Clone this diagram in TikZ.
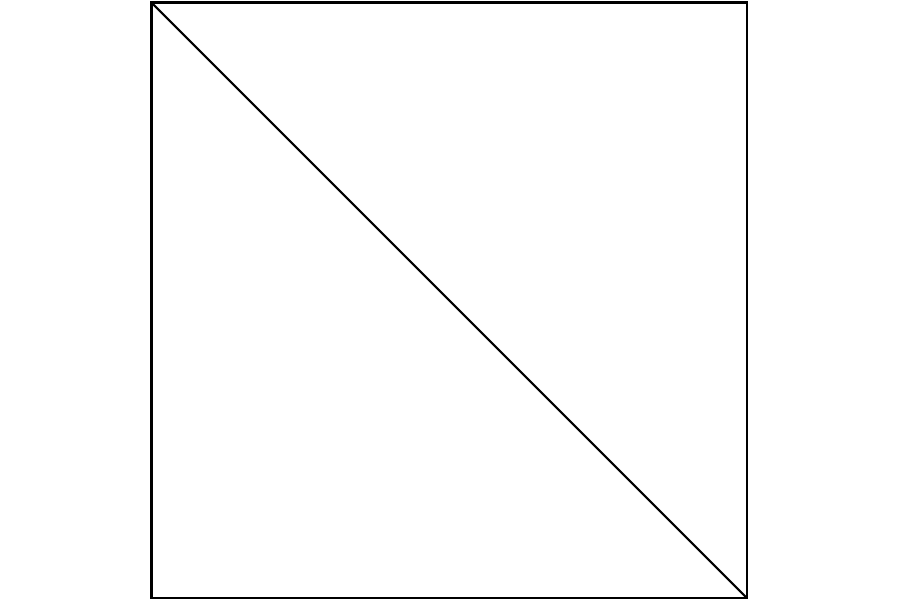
\documentclass[tikz,border=0pt]{standalone}
\usepackage{tikz}
\tikzstyle{plane} = [y = -1cm]
\tikzstyle{squareLine} = [color=black, line width=0.6pt]
\newcommand{\squareLeft}{1.515}
\newcommand{\squareTop}{0.025}
\newcommand{\squareSide}{5.955}
\begin{document}
\begin{tikzpicture}[plane]
  \useasboundingbox (0,0) rectangle (9,5.99);
  \coordinate (topLeft) at (\squareLeft, \squareTop);
  \coordinate (bottomRight) at (\squareLeft + \squareSide, \squareTop + \squareSide);
  \draw [squareLine] (topLeft) rectangle (bottomRight);
  \draw [squareLine] (topLeft) -- (bottomRight);
\end{tikzpicture}
\end{document}
